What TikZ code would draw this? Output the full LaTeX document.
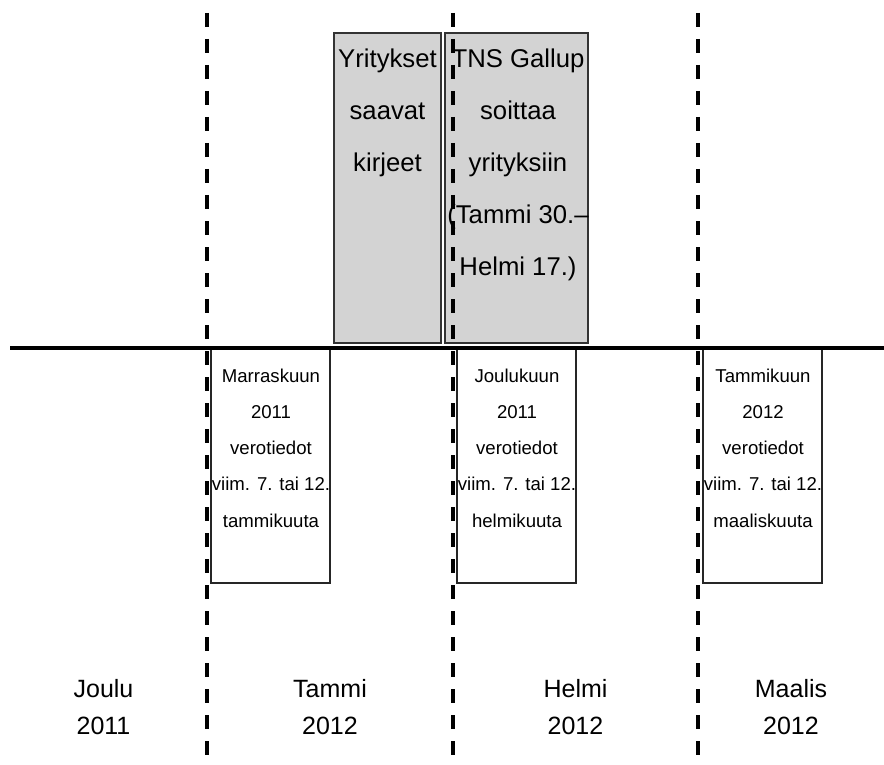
\documentclass[tikz,border=0pt]{standalone}
\usepackage{fontspec}
\setmainfont{Liberation Sans}
\definecolor{vaaleanharmaa}{RGB}{211,211,211}
\begin{document}
\begin{tikzpicture}[x=1pt,y=-1pt,
  harmaa/.style={draw=black!80,fill=vaaleanharmaa,line width=1.2pt,minimum width=#1,minimum height=310pt,inner sep=0pt},
  valkoinen/.style={draw=black!85,fill=white,line width=1.4pt,minimum width=119pt,minimum height=235pt,inner sep=0pt},
  iso/.style={font=\fontsize{25.7}{52}\selectfont,align=center,anchor=north,inner sep=0pt},
  pieni/.style={font=\fontsize{18.6}{36.25}\selectfont,align=center,anchor=north,inner sep=0pt},
  kuu/.style={font=\fontsize{25}{37}\selectfont,align=center,anchor=north,inner sep=0pt},
  raja/.style={line width=3.4pt,dash pattern=on 14pt off 12pt}]
\useasboundingbox (0,0) rectangle (884,765);
\node[harmaa=107pt] (g1) at (387.5,188) {};
\node[harmaa=143pt] (g2) at (516.5,188) {};
\node[valkoinen] (w1) at (270.5,465.5) {};
\node[valkoinen] (w2) at (516.5,465.5) {};
\node[valkoinen] (w3) at (762.5,465.5) {};

\coordinate (a0) at (10,348);
\coordinate (a1) at (884,348);
\coordinate (d1) at (207,13);
\coordinate (e1) at (207,765);
\coordinate (d2) at (453,13);
\coordinate (e2) at (453,765);
\coordinate (d3) at (698,13);
\coordinate (e3) at (698,765);

\draw[line width=3.2pt] (a0) -- (a1);
\draw[raja] (d1) -- (e1);
\draw[raja] (d2) -- (e2);
\draw[raja] (d3) -- (e3);

\node[iso] (t1) at (387.5,48.5) {Yritykset\\saavat\\kirjeet};
\node[iso] (t2) at (518,48.5) {TNS Gallup\\soittaa\\yrityksiin\\(Tammi 30.–\\Helmi 17.)};
\node[pieni] (t3) at (271,368.4) {Marraskuun\\2011\\verotiedot\\viim. 7. tai 12.\\tammikuuta};
\node[pieni] (t4) at (517,368.4) {Joulukuun\\2011\\verotiedot\\viim. 7. tai 12.\\helmikuuta};
\node[pieni] (t5) at (763,368.4) {Tammikuun\\2012\\verotiedot\\viim. 7. tai 12.\\maaliskuuta};
\node[kuu] (m1) at (103.5,679) {Joulu\\2011};
\node[kuu] (m2) at (330,679) {Tammi\\2012};
\node[kuu] (m3) at (575.5,679) {Helmi\\2012};
\node[kuu] (m4) at (791,679) {Maalis\\2012};
\end{tikzpicture}
\end{document}
